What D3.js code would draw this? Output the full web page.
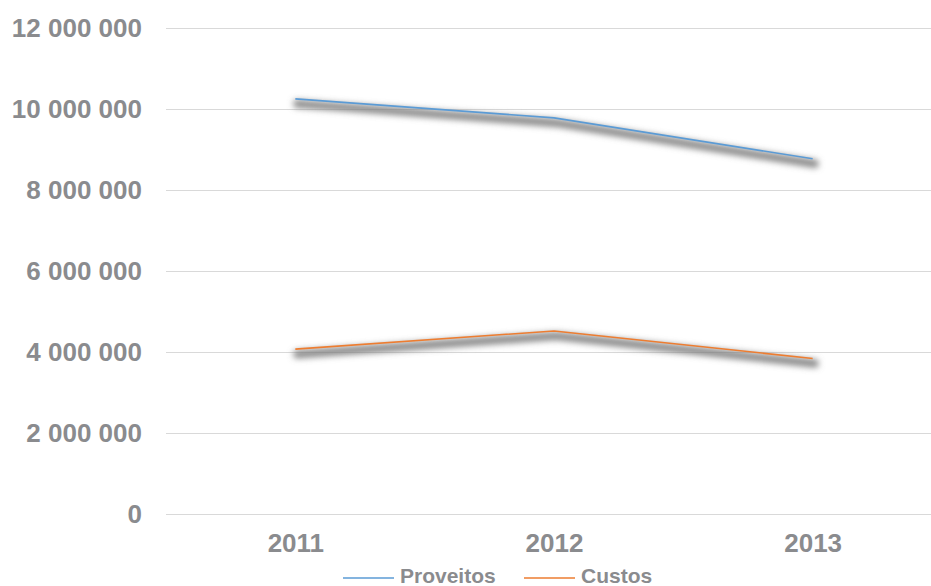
<!DOCTYPE html>
<html>
<head>
<meta charset="utf-8">
<script src="https://cdn.jsdelivr.net/npm/d3@7/dist/d3.min.js"></script>
<style>
  html, body { margin: 0; padding: 0; background: #fff; }
  svg { display: block; font-family: "Liberation Sans", Arial, sans-serif; }
</style>
</head>
<body>
<svg id="chart" width="931" height="586"></svg>
<script>
// Years on the category axis
const years = ["2011", "2012", "2013"];
// Revenue and cost per year
const proveitos = [10250000, 9780000, 8770000];
const custos = [4070000, 4520000, 3840000];
// Value axis ticks
const yTicks = [0, 2000000, 4000000, 6000000, 8000000, 10000000, 12000000];
const seriesNames = ["Proveitos", "Custos"];
const seriesColors = ["#5b9bd5", "#ed7d31"];

const svg = d3.select("#chart");
const W = 931, H = 586;
const plot = { left: 166, right: 942, top: 28, bottom: 514 };

const x = d3.scalePoint().domain(years).range([plot.left, plot.right]).padding(0.5);
const y = d3.scaleLinear().domain([0, 12000000]).range([plot.bottom, plot.top]);

const fmt = v => d3.format(",")(v).replace(/,/g, " ");
const labelColor = "#8a8b8e";

// Soft drop shadow under each line
const defs = svg.append("defs");
const f = defs.append("filter").attr("id", "shadow")
  .attr("x", "-10%").attr("y", "-50%").attr("width", "120%").attr("height", "200%");
f.append("feGaussianBlur").attr("stdDeviation", 3);

// Gridlines
const yAxis = d3.axisLeft(y).tickValues(yTicks).tickSize(-(W - plot.left)).tickFormat(fmt).tickPadding(24);
const gy = svg.append("g").attr("transform", `translate(${plot.left},0)`).call(yAxis);
gy.select(".domain").remove();
gy.selectAll(".tick line").attr("stroke", "#d9d9d9").attr("stroke-width", 1);
gy.selectAll(".tick text")
  .attr("fill", labelColor)
  .attr("font-size", 26)
  .attr("font-weight", "bold")
  .attr("font-family", "Liberation Sans, Arial, sans-serif");

// Category axis labels
const xAxis = d3.axisBottom(x).tickSize(0).tickPadding(20);
const gx = svg.append("g").attr("transform", `translate(0,${plot.bottom})`).call(xAxis);
gx.select(".domain").remove();
gx.selectAll(".tick text")
  .attr("fill", labelColor)
  .attr("font-size", 26)
  .attr("font-weight", "bold")
  .attr("font-family", "Liberation Sans, Arial, sans-serif");

const line = d3.line().x((d, i) => x(years[i])).y(d => y(d));
const series = [proveitos, custos];

// Shadows first, then the coloured lines on top
series.forEach(vals => {
  svg.append("path")
    .attr("d", line(vals))
    .attr("fill", "none")
    .attr("stroke", "#7a7a7a")
    .attr("stroke-opacity", 0.9)
    .attr("stroke-width", 8)
    .attr("stroke-linecap", "round")
    .attr("transform", "translate(2,5)")
    .attr("filter", "url(#shadow)");
});
series.forEach((vals, i) => {
  svg.append("path")
    .attr("d", line(vals))
    .attr("fill", "none")
    .attr("stroke", seriesColors[i])
    .attr("stroke-width", 1.6);
});

// Legend
const legendItems = [
  { name: seriesNames[0], color: seriesColors[0], x: 343 },
  { name: seriesNames[1], color: seriesColors[1], x: 524 }
];
const lg = svg.append("g");
legendItems.forEach(it => {
  lg.append("line")
    .attr("x1", it.x).attr("x2", it.x + 51)
    .attr("y1", 578).attr("y2", 578)
    .attr("stroke", it.color).attr("stroke-width", 1.5);
  lg.append("text")
    .attr("x", it.x + 57).attr("y", 583)
    .attr("fill", labelColor)
    .attr("font-size", 21)
    .attr("font-weight", "bold")
    .text(it.name);
});
</script>
</body>
</html>
